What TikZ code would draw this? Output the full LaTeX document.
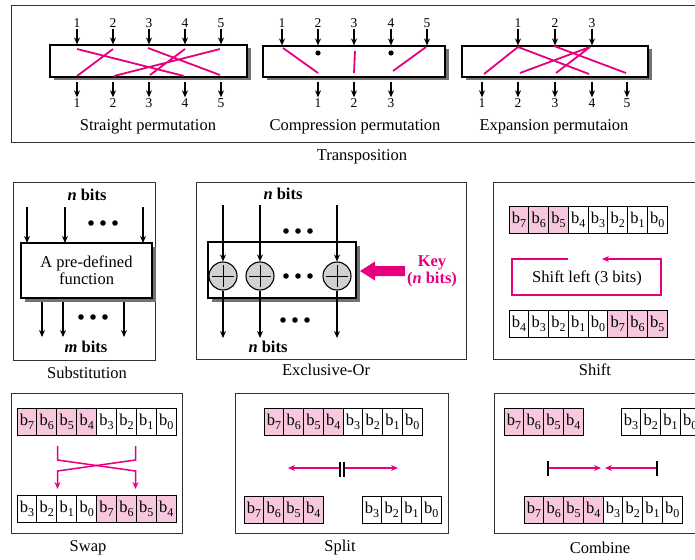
\documentclass[tikz,border=0pt]{standalone}
\usepackage{fontspec}
\setmainfont{Liberation Serif}
\usetikzlibrary{arrows.meta}
\definecolor{pk}{RGB}{230,0,126}
\definecolor{pkf}{RGB}{247,199,221}
\newcommand\lab{\fontsize{16.5}{17}\selectfont}
\newcommand\numf{\fontsize{13.5}{15}\selectfont}
\newcommand\bb[1]{b\raisebox{-0.25em}{\fontsize{12}{12}\selectfont #1}}
\newcommand\nbits[1]{\textbf{\textit{#1}} \textbf{bits}}
\begin{document}
\begin{tikzpicture}[x=1pt,y=-1pt,
  frame/.style={draw=black!80,line width=0.9pt},
  shad/.style={fill=black!55},
  pbox/.style={draw,line width=1.1pt,fill=white,inner sep=0pt},
  arr/.style={line width=1.3pt,-{Stealth[length=7pt,width=6pt]}},
  pkl/.style={draw=pk,line width=1.8pt},
  pka/.style={draw=pk,line width=1.5pt,-{Stealth[length=7pt,width=6pt]}},
  cell/.style={draw,line width=0.9pt,minimum width=19.75pt,minimum height=27pt,inner sep=0pt,font=\lab},
  txt/.style={font=\lab,inner sep=1pt},
  numt/.style={font=\numf,inner sep=1pt},
  xorc/.style={circle,draw,line width=1.1pt,fill=black!18,minimum size=28pt,inner sep=0pt,
    path picture={\draw[line width=0.8pt] ([yshift=-3pt]path picture bounding box.north) -- ([yshift=3pt]path picture bounding box.south)
      ([xshift=3pt]path picture bounding box.west) -- ([xshift=-3pt]path picture bounding box.east);}},
  bar/.style={line width=1.6pt}]
\useasboundingbox (0,0) rectangle (695,559);

% ---------------- Transposition panel ----------------
\draw[frame] (11,5) rectangle (700,142);
\node[txt] (ttrans) at (362,157) {Transposition};

% Straight permutation
\fill[shad] (53.5,48.5) rectangle (250.5,80.5);
\node[pbox,minimum width=197pt,minimum height=32pt] (sb) at (148.5,61) {};
\foreach \x [count=\i] in {77,113,149,185,221} {
  \node[numt] (si\i) at (\x,23) {\i};
  \draw[arr] (si\i.south) -- (si\i.south |- sb.north);
  \node[numt] (so\i) at (\x,103) {\i};
  \draw[arr] ([yshift=-4pt]so\i.north |- sb.south) -- (so\i.north);
}
\draw[pkl] (77,49)--(184,76) (113,49)--(77,76) (148,48)--(220,75) (185,49)--(150,75) (220,49)--(114,76);
\node[txt] (tstr) at (148,127) {Straight permutation};

% Compression permutation
\fill[shad] (266.5,49.5) rectangle (448.5,80.5);
\node[pbox,minimum width=182pt,minimum height=31pt] (cb) at (354,61.5) {};
\foreach \x [count=\i] in {282,318,354,391,427} {
  \node[numt] (ci\i) at (\x,23) {\i};
  \draw[arr] (ci\i.south) -- (ci\i.south |- cb.north);
}
\foreach \x [count=\i] in {318,354,391} {
  \node[numt] (co\i) at (\x,103) {\i};
  \draw[arr] ([yshift=-4pt]co\i.north |- cb.south) -- (co\i.north);
}
\fill (318,53) circle (2.6) (391,53) circle (2.6);
\draw[pkl] (283,48)--(318,73) (355,51)--(354,73) (426,47)--(393,71);
\node[txt] (tcomp) at (355,127) {Compression permutation};

% Expansion permutation
\fill[shad] (465.5,49.5) rectangle (651.5,80.5);
\node[pbox,minimum width=186pt,minimum height=31pt] (eb) at (555,61.5) {};
\foreach \x [count=\i] in {518,555,592} {
  \node[numt] (ei\i) at (\x,23) {\i};
  \draw[arr] (ei\i.south) -- (ei\i.south |- eb.north);
}
\foreach \x [count=\i] in {482,518,555,592,627} {
  \node[numt] (eo\i) at (\x,103) {\i};
  \draw[arr] ([yshift=-4pt]eo\i.north |- eb.south) -- (eo\i.north);
}
\draw[pkl] (518,47)--(484,74) (518,47)--(589,74) (554,46)--(626,73) (590,47)--(520,73) (590,47)--(556,73);
\node[txt] (texp) at (554,127) {Expansion permutaion};

% ---------------- Substitution ----------------
\draw[frame] (13,182) rectangle (155,360);
\node[txt] (tsub) at (87,373) {Substitution};
\node[txt] (snb) at (87,195) {\nbits{n}};
\fill[shad] (25,247) rectangle (155.5,302);
\node[pbox,minimum width=131pt,minimum height=55pt,align=center,font=\lab] (fb) at (86.5,270.5) {A pre-defined\\function};
\foreach \x in {27,65,143} \draw[arr] (\x,207) -- (\x,243);
\foreach \dx in {-12,0,12} \fill (103+\dx,223) circle (2.8);
\foreach \x in {42,63,124} \draw[arr] (\x,302) -- (\x,337);
\foreach \dx in {-12,0,12} \fill (93+\dx,317) circle (2.8);
\node[txt] (smb) at (86,347) {\nbits{m}};

% ---------------- Exclusive-Or ----------------
\draw[frame] (196,182) rectangle (466,359);
\node[txt] (txor) at (326,370) {Exclusive-Or};
\node[txt] (xnt) at (283,194) {\nbits{n}};
\fill[shad] (212,246) rectangle (360,302);
\node[pbox,minimum width=148pt,minimum height=56pt] (xb) at (282,270) {};
\foreach \x [count=\i] in {223,260,337} {
  \node[xorc] (xc\i) at (\x,276) {};
  \draw[arr] (\x,205) -- (xc\i.north);
  \draw[arr] (xc\i.south) -- (\x,338);
}
\foreach \dx in {-12,0,12} {
  \fill (298+\dx,231) circle (2.8);
  \fill (298+\dx,276) circle (2.8);
  \fill (295+\dx,320) circle (2.8);
}
\node[txt] (xnb) at (268,347) {\nbits{n}};
\fill[pk] (405,266)--(375,266)--(375,261.5)--(360,271)--(375,280.5)--(375,276)--(405,276)--cycle;
\node[txt,text=pk,align=center,font=\lab\bfseries] (key) at (432,271) {Key\\(\textit{n} bits)};

% ---------------- Shift ----------------
\draw[frame] (493,182) rectangle (700,359);
\node[txt] (tshift) at (595,370) {Shift};
\foreach \d/\f [count=\i from 0] in {7/pkf,6/pkf,5/pkf,4/white,3/white,2/white,1/white,0/white}
  \node[cell,fill=\f] (sa\i) at ({509+(\i+0.5)*19.75},219.5) {\bb{\d}};
\foreach \d/\f [count=\i from 0] in {4/white,3/white,2/white,1/white,0/white,7/pkf,6/pkf,5/pkf}
  \node[cell,fill=\f] (sz\i) at ({509+(\i+0.5)*19.75},323.5) {\bb{\d}};
\draw[pka] (568,259)--(512,259)--(512,295)--(661,295)--(661,259)--(602,259);
\node[txt] (shl) at (587,278) {Shift left (3 bits)};

% ---------------- Swap ----------------
\draw[frame] (11,393) rectangle (182,533);
\node[txt] (tswap) at (88,548) {Swap};
\foreach \d/\f [count=\i from 0] in {7/pkf,6/pkf,5/pkf,4/pkf,3/white,2/white,1/white,0/white}
  \node[cell,fill=\f,minimum width=19.9pt] (wa\i) at ({17+(\i+0.5)*19.9},421.5) {\bb{\d}};
\foreach \d/\f [count=\i from 0] in {3/white,2/white,1/white,0/white,7/pkf,6/pkf,5/pkf,4/pkf}
  \node[cell,fill=\f,minimum width=19.9pt] (wz\i) at ({17+(\i+0.5)*19.9},508.5) {\bb{\d}};
\draw[pka] (57.5,446)--(57.5,460)--(135.5,471)--(135.5,489);
\draw[pka] (135.5,446)--(135.5,460)--(57.5,471)--(57.5,489);

% ---------------- Split ----------------
\draw[frame] (235,393) rectangle (448,533);
\node[txt] (tsplit) at (340,548) {Split};
\foreach \d/\f [count=\i from 0] in {7/pkf,6/pkf,5/pkf,4/pkf,3/white,2/white,1/white,0/white}
  \node[cell,fill=\f] (pa\i) at ({264+(\i+0.5)*19.75},421.5) {\bb{\d}};
\foreach \d [count=\i from 0] in {7,6,5,4}
  \node[cell,fill=pkf] (pl\i) at ({244+(\i+0.5)*19.75},509.5) {\bb{\d}};
\foreach \d [count=\i from 0] in {3,2,1,0}
  \node[cell,fill=white] (pr\i) at ({362+(\i+0.5)*19.75},509.5) {\bb{\d}};
\draw[pka] (340,468)--(288,468);
\draw[pka] (344,468)--(398,468);
\draw[bar] (340,462)--(340,477) (344,462)--(344,477);

% ---------------- Combine ----------------
\draw[frame] (494,393) rectangle (700,533);
\node[txt] (tcomb) at (600,548) {Combine};
\foreach \d [count=\i from 0] in {7,6,5,4}
  \node[cell,fill=pkf] (ml\i) at ({504+(\i+0.5)*19.75},421.5) {\bb{\d}};
\foreach \d [count=\i from 0] in {3,2,1,0}
  \node[cell,fill=white] (mr\i) at ({621+(\i+0.5)*19.75},421.5) {\bb{\d}};
\foreach \d/\f [count=\i from 0] in {7/pkf,6/pkf,5/pkf,4/pkf,3/white,2/white,1/white,0/white}
  \node[cell,fill=\f] (mz\i) at ({524+(\i+0.5)*19.75},509.5) {\bb{\d}};
\draw[pka] (548,468)--(601,468);
\draw[pka] (657,468)--(605,468);
\draw[bar] (548,461)--(548,476) (657,461)--(657,476);
\end{tikzpicture}
\end{document}
